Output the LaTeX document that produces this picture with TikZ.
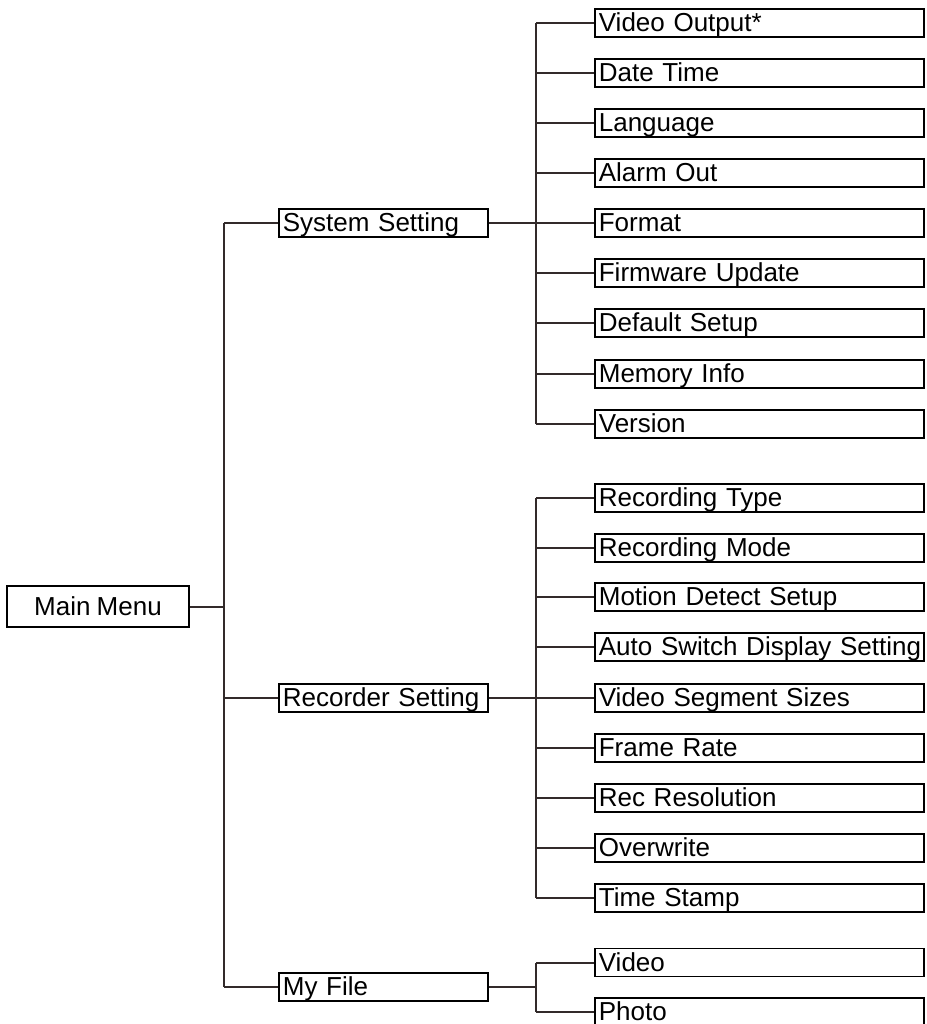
\documentclass[tikz,border=0pt]{standalone}
\usepackage{fontspec}
\setmainfont[WordSpace=0.85]{Liberation Sans}
\definecolor{linecol}{RGB}{50,42,42}

\tikzset{
  menubox/.style={draw=black, line width=1.7pt, rectangle, minimum height=28pt,
    inner xsep=4pt, inner ysep=0pt, text height=19pt, text depth=1.5pt,
    font=\fontsize{26}{30}\selectfont},
  midbox/.style={menubox, anchor=west, align=left, text width=201pt},
  itembox/.style={menubox, anchor=west, align=left, text width=321pt},
  link/.style={draw=linecol, line width=2pt},
}

\begin{document}
\begin{tikzpicture}[x=1pt, y=-1pt]
  % Рамка рисунка
  \useasboundingbox (0,0) rectangle (926,1024);

  % Опорные координаты ствола и шин
  \coordinate (trunk) at (223.5,0);
  \coordinate (bus) at (536,0);

  % Главное меню
  \node[menubox, minimum width=182pt, minimum height=41pt] (main) at (98,606.5) {Main Menu};

  % Разделы
  \node[midbox] (sys) at (278,223) {System Setting};
  \node[midbox] (rec) at (278,698) {Recorder Setting};
  \node[midbox] (file) at (278,987) {My File};

  % Пункты раздела System Setting
  \foreach \i/\yy/\txt in {1/23/Video Output*, 2/73/Date Time, 3/123/Language,
      4/173/Alarm Out, 5/223/Format, 6/273/Firmware Update, 7/323/Default Setup,
      8/374/Memory Info, 9/424/Version}
    \node[itembox] (s\i) at (594,\yy) {\mbox{\txt}};

  % Пункты раздела Recorder Setting
  \foreach \i/\yy/\txt in {1/498/Recording Type, 2/548/Recording Mode,
      3/597/Motion Detect Setup, 4/647/Auto Switch Display Setting,
      5/698/Video Segment Sizes, 6/748/Frame Rate, 7/798/Rec Resolution,
      8/848/Overwrite, 9/898/Time Stamp}
    \node[itembox] (r\i) at (594,\yy) {\mbox{\txt}};

  % Пункты раздела My File
  \node[itembox] (f1) at (594,962.5) {Video};
  \node[itembox] (f2) at (594,1012) {Photo};

  % Соединения главного меню
  \draw[link] (main.east) -- (main.east -| trunk);
  \draw[link] (sys.west -| trunk) -- (file.west -| trunk);
  \foreach \n in {sys,rec,file}
    \draw[link] (\n.west) -- (\n.west -| trunk);

  % Соединения разделов
  \draw[link] (sys.east) -- (sys.east -| bus);
  \draw[link] (s1.west -| bus) -- (s9.west -| bus);
  \foreach \i in {1,...,9}
    \draw[link] (s\i.west) -- (s\i.west -| bus);

  \draw[link] (rec.east) -- (rec.east -| bus);
  \draw[link] (r1.west -| bus) -- (r9.west -| bus);
  \foreach \i in {1,...,9}
    \draw[link] (r\i.west) -- (r\i.west -| bus);

  \draw[link] (file.east) -- (file.east -| bus);
  \draw[link] (f1.west -| bus) -- (f2.west -| bus);
  \foreach \i in {1,2}
    \draw[link] (f\i.west) -- (f\i.west -| bus);
\end{tikzpicture}
\end{document}
